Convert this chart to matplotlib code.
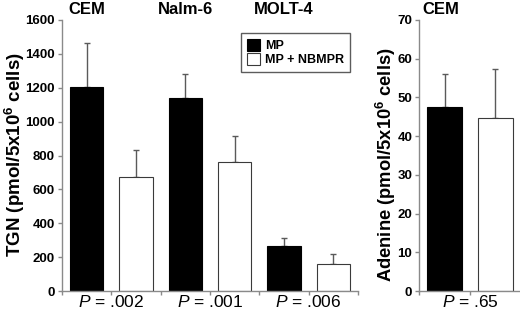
import matplotlib
matplotlib.use("Agg")
import matplotlib.pyplot as plt
import numpy as np

plt.rcParams['font.family'] = ['Liberation Sans', 'DejaVu Sans']
plt.rcParams['mathtext.fontset'] = 'custom'
plt.rcParams['mathtext.it'] = 'Liberation Sans:italic'
plt.rcParams['mathtext.rm'] = 'Liberation Sans'
plt.rcParams['mathtext.bf'] = 'Liberation Sans:bold'

# Data
cell_lines = ["CEM", "Nalm-6", "MOLT-4"]
tgn_mp = [1205, 1137, 267]
tgn_mp_err = [260, 143, 46]
tgn_nbmpr = [673, 763, 158]
tgn_nbmpr_err = [158, 155, 60]
p_tgn = [".002", ".001", ".006"]

adenine_line = "CEM"
ade_mp = [47.6]
ade_mp_err = [8.5]
ade_nbmpr = [44.8]
ade_nbmpr_err = [12.5]
p_ade = ".65"

series_labels = ["MP", "MP + NBMPR"]
tgn_ticks = [0, 200, 400, 600, 800, 1000, 1200, 1400, 1600]
ade_ticks = [0, 10, 20, 30, 40, 50, 60, 70]

spine_c = "#8a8a8a"
err_c = "#5a5a5a"
edge_c = "#3a3a3a"

W, H = 520, 314
fig = plt.figure(figsize=(5.2, 3.14), dpi=100)
ax1 = fig.add_axes([62/W, 1-291/H, (358-62)/W, 271/H])
ax2 = fig.add_axes([419.3/W, 1-291/H, 101.4/W, 271/H])

def style(ax, ticks, ymax, nslots):
    for s in ["top", "right"]:
        ax.spines[s].set_visible(False)
    for s in ["left", "bottom"]:
        ax.spines[s].set_color(spine_c)
        ax.spines[s].set_linewidth(1.0)
    ax.set_ylim(0, ymax)
    ax.set_yticks(ticks)
    ax.set_yticklabels([str(t) for t in ticks], fontsize=9.5, fontweight="bold")
    ax.set_xlim(0, nslots)
    ax.set_xticks(np.arange(nslots + 1))
    ax.set_xticklabels([])
    ax.tick_params(axis="both", color=spine_c, length=3, width=1, direction="out", pad=2)

def fig_x(ax, xdata):
    return fig.transFigure.inverted().transform(ax.transData.transform((xdata, 0)))[0]

w = 0.68
n = len(cell_lines)
x_mp = np.arange(n) * 2 + 0.5
x_nb = np.arange(n) * 2 + 1.5
ax1.bar(x_mp, tgn_mp, width=w, color="black", edgecolor="black", linewidth=0.8, label=series_labels[0], zorder=2)
ax1.bar(x_nb, tgn_nbmpr, width=w, color="white", edgecolor=edge_c, linewidth=0.8, label=series_labels[1], zorder=2)
ekw = dict(fmt="none", ecolor=err_c, elinewidth=1.0, capsize=2.5, capthick=1.0, zorder=1)
ax1.errorbar(x_mp, tgn_mp, yerr=[np.zeros(n), tgn_mp_err], **ekw)
ax1.errorbar(x_nb, tgn_nbmpr, yerr=[np.zeros(n), tgn_nbmpr_err], **ekw)
style(ax1, tgn_ticks, 1600, 2 * n)
ax1.set_ylabel(r"TGN (pmol/5x10$^{\mathbf{6}}$ cells)", fontsize=13.5, fontweight="bold",
               va="center")
ax1.yaxis.set_label_coords((14.5 - 62) / 296, (291 - 155) / 271)

title_y = 1 - 10/H
p_y = 1 - 302/H
for i, name in enumerate(cell_lines):
    fig.text(fig_x(ax1, x_mp[i]), title_y, name, ha="center", va="center",
             fontsize=12, fontweight="bold")
    fig.text(fig_x(ax1, i * 2 + 1), p_y, r"$\mathit{P}$ = " + p_tgn[i],
             ha="center", va="center", fontsize=12.5)

leg = ax1.legend(loc="upper left", bbox_to_anchor=((241-62)/296, 1 - (33-20)/271),
                 prop={"weight": "bold", "size": 9}, frameon=True, fancybox=False,
                 handlelength=1.1, handleheight=1.1, handletextpad=0.4, borderpad=0.45,
                 labelspacing=0.1, borderaxespad=0)
leg.get_frame().set_edgecolor("#333333")
leg.get_frame().set_linewidth(1.0)

ax2.bar([0.5], ade_mp, width=w, color="black", edgecolor="black", linewidth=0.8, zorder=2)
ax2.bar([1.5], ade_nbmpr, width=w, color="white", edgecolor=edge_c, linewidth=0.8, zorder=2)
ax2.errorbar([0.5], ade_mp, yerr=[[0], ade_mp_err], **ekw)
ax2.errorbar([1.5], ade_nbmpr, yerr=[[0], ade_nbmpr_err], **ekw)
style(ax2, ade_ticks, 70, 2)
ax2.set_ylabel(r"Adenine (pmol/5x10$^{\mathbf{6}}$ cells)", fontsize=13.2, fontweight="bold",
               va="center")
ax2.yaxis.set_label_coords((386 - 419.3) / 101.4, (291 - 165) / 271)
fig.text(fig_x(ax2, 0.42), title_y, adenine_line, ha="center", va="center",
         fontsize=12, fontweight="bold")
fig.text(fig_x(ax2, 1.0), p_y, r"$\mathit{P}$ = " + p_ade, ha="center", va="center", fontsize=12.5)

fig.savefig("out.png", dpi=100)
